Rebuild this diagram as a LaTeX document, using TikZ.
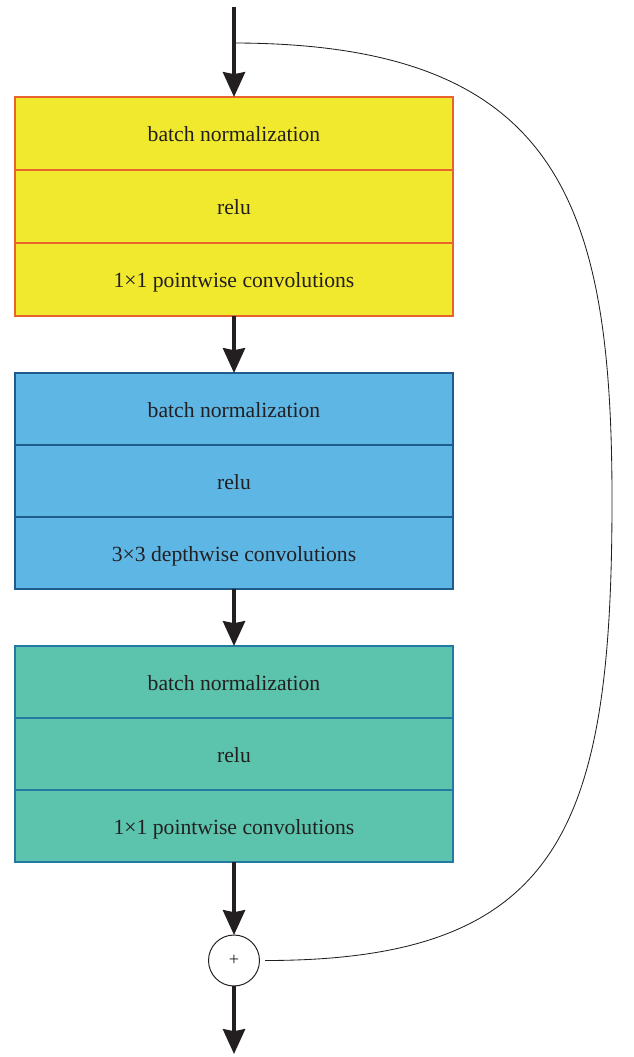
\documentclass[tikz,border=0pt]{standalone}
\usepackage{fontspec}
\setmainfont{Liberation Serif}
\usetikzlibrary{arrows.meta, positioning, calc}
\definecolor{YellowFill}{RGB}{240,233,46}
\definecolor{YellowLine}{RGB}{232,100,42}
\definecolor{BlueFill}{RGB}{94,182,228}
\definecolor{BlueLine}{RGB}{30,92,140}
\definecolor{GreenFill}{RGB}{92,195,173}
\definecolor{GreenLine}{RGB}{34,122,162}
\definecolor{InkGray}{RGB}{35,31,32}

\begin{document}
\begin{tikzpicture}[
    layer/.style={
        rectangle, minimum width=10.95cm, minimum height=1.8cm,
        draw=#1Line, fill=#1Fill, line width=1.2pt, outer sep=0pt,
        inner sep=0pt, text height=12pt, text depth=0pt,
        text=InkGray, font=\fontsize{15.4}{18}\selectfont
    },
    tall/.style={minimum height=1.825cm},
    sumnode/.style={
        circle, draw=InkGray, line width=0.7pt, fill=white,
        minimum size=1.275cm, inner sep=0pt, outer sep=0pt,
        font=\fontsize{13}{15}\selectfont, text=InkGray
    },
    arr/.style={-{Stealth[length=0.62cm, width=0.55cm, inset=0.05cm]},
        line width=0.1cm, draw=InkGray},
    skip/.style={line width=0.6pt, draw=InkGray},
    node distance=1.425cm
]
\useasboundingbox (0,0) rectangle (15.825,-26.425);

% ===================================================================
% POINTWISE BLOCK
% ===================================================================
\node[layer=Yellow, tall] (ybn) at (5.85,-3.3375) {batch normalization};
\node[layer=Yellow, tall, below=0pt of ybn] (yrelu) {relu};
\node[layer=Yellow, tall, below=0pt of yrelu] (yconv) {1×1 pointwise convolutions};

% ===================================================================
% DEPTHWISE BLOCK
% ===================================================================
\node[layer=Blue, below=of yconv] (bbn) {batch normalization};
\node[layer=Blue, below=0pt of bbn] (brelu) {relu};
\node[layer=Blue, below=0pt of brelu] (bconv) {3×3 depthwise convolutions};

% ===================================================================
% POINTWISE BLOCK
% ===================================================================
\node[layer=Green, below=of bconv] (gbn) {batch normalization};
\node[layer=Green, below=0pt of gbn] (grelu) {relu};
\node[layer=Green, below=0pt of grelu] (gconv) {1×1 pointwise convolutions};

% sum
\node[sumnode, below=1.825cm of gconv] (plus) {+};

% ends
\coordinate[above=2.25cm of ybn.north] (in);
\coordinate[below=1.7cm of plus.south] (out);
\coordinate (tap) at ($(ybn.north)+(-0.05,1.35)$);
\coordinate (bend) at (15.3,-12.5);

% ===================================================================
% ARROWS
% ===================================================================
\draw[arr] (in) -- (ybn.north);
\draw[arr] (yconv.south) -- (bbn.north);
\draw[arr] (bconv.south) -- (gbn.north);
\draw[arr] (gconv.south) -- (plus.north);
\draw[arr] (plus.south) -- (out);

% skip connection
\draw[skip] (tap) .. controls +(8.15,0) and +(0,7.5) .. (bend)
    .. controls +(0,-8.25) and +(7.375,0) .. ([xshift=0.14cm]plus.east);

\end{tikzpicture}
\end{document}
